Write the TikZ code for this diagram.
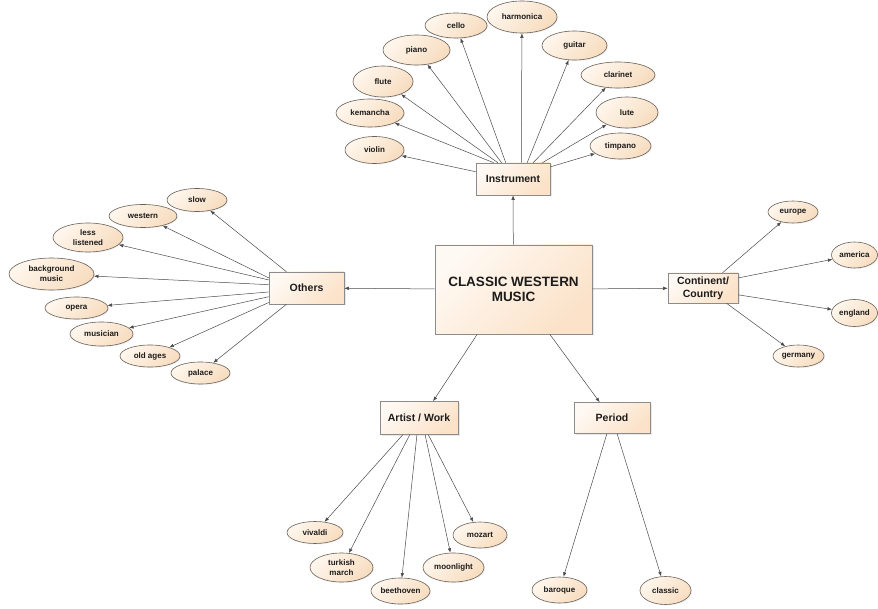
\documentclass[tikz,border=0pt]{standalone}
\usepackage{fontspec}
\setmainfont{Liberation Sans}
\usetikzlibrary{shapes.geometric,arrows.meta,shadows}
\definecolor{boxA}{HTML}{FFF9F3}
\definecolor{boxB}{HTML}{FBE2C8}
\definecolor{elA}{HTML}{FFF6EC}
\definecolor{elB}{HTML}{F7DDC0}
\definecolor{boxline}{HTML}{8C8C8C}
\definecolor{elline}{HTML}{6A625A}
\definecolor{conline}{HTML}{4A4A4A}
\definecolor{txt}{HTML}{1C1C1C}
\begin{document}
\begin{tikzpicture}[x=1pt,y=-1pt,
  bx/.style={rectangle, draw=boxline, line width=0.6pt, top color=boxA, bottom color=boxB, shading angle=45,
    drop shadow={shadow xshift=1.5pt, shadow yshift=-1.5pt, opacity=0.18},
    font=\fontsize{10.5}{13}\selectfont\bfseries, text=txt, inner sep=0pt, align=center},
  el/.style={ellipse, draw=elline, line width=0.6pt, top color=elA, bottom color=elB, shading angle=45,
    drop shadow={shadow xshift=1pt, shadow yshift=-1pt, opacity=0.12},
    font=\fontsize{8}{10}\selectfont\bfseries, text=txt, inner sep=0pt, align=center},
  conn/.style={draw=conline, line width=0.5pt, -{Latex[length=4.5pt,width=3.5pt]}}]
\useasboundingbox[fill=white] (0,0) rectangle (878,609);

% main boxes
\node[bx, minimum width=157pt, minimum height=89pt, font=\fontsize{13.5}{15}\selectfont\bfseries] (cwm) at (513.5,289.5) {CLASSIC WESTERN\\MUSIC};
\node[bx, minimum width=74pt, minimum height=32pt] (inst) at (513,179) {Instrument};
\node[bx, minimum width=75pt, minimum height=32pt] (oth) at (306.5,288) {Others};
\node[bx, minimum width=70pt, minimum height=30pt] (cont) at (703,288) {Continent/\\Country};
\node[bx, minimum width=78pt, minimum height=33pt] (art) at (419,418) {Artist / Work};
\node[bx, minimum width=76pt, minimum height=31pt] (per) at (612,418) {Period};

% instrument leaves
\node[el, minimum width=59pt, minimum height=27pt] (violin) at (374.5,150) {violin};
\node[el, minimum width=68pt, minimum height=28pt] (kemancha) at (370,113) {kemancha};
\node[el, minimum width=60pt, minimum height=31pt] (flute) at (383,81.5) {flute};
\node[el, minimum width=67pt, minimum height=30pt] (piano) at (416.5,50) {piano};
\node[el, minimum width=62pt, minimum height=25pt] (cello) at (456,25.5) {cello};
\node[el, minimum width=70pt, minimum height=32pt] (harmonica) at (522,17) {harmonica};
\node[el, minimum width=65pt, minimum height=29pt] (guitar) at (574.5,45.5) {guitar};
\node[el, minimum width=74pt, minimum height=26pt] (clarinet) at (618,75) {clarinet};
\node[el, minimum width=62pt, minimum height=31pt] (lute) at (627,112.5) {lute};
\node[el, minimum width=61pt, minimum height=26pt] (timpano) at (620.5,146) {timpano};

% others leaves
\node[el, minimum width=60pt, minimum height=23pt] (slow) at (197,200) {slow};
\node[el, minimum width=68pt, minimum height=23pt] (western) at (143,216) {western};
\node[el, minimum width=70pt, minimum height=29pt] (less) at (88,237.5) {less\\listened};
\node[el, minimum width=85pt, minimum height=32pt] (background) at (51.5,274) {background\\music};
\node[el, minimum width=63pt, minimum height=22pt] (opera) at (76.5,308) {opera};
\node[el, minimum width=63pt, minimum height=24pt] (musician) at (101.5,334) {musician};
\node[el, minimum width=60pt, minimum height=22pt] (oldages) at (150,356) {old ages};
\node[el, minimum width=59pt, minimum height=22pt] (palace) at (200.5,373) {palace};

% continent leaves
\node[el, minimum width=50pt, minimum height=22pt] (europe) at (793,212) {europe};
\node[el, minimum width=46pt, minimum height=26pt] (america) at (854.5,255) {america};
\node[el, minimum width=46pt, minimum height=27pt] (england) at (854.5,313) {england};
\node[el, minimum width=51pt, minimum height=22pt] (germany) at (798.5,356) {germany};

% artist leaves
\node[el, minimum width=56pt, minimum height=22pt] (vivaldi) at (315,532.5) {vivaldi};
\node[el, minimum width=63pt, minimum height=29pt] (turkish) at (341.5,567.5) {turkish\\march};
\node[el, minimum width=59pt, minimum height=26pt] (beethoven) at (400.5,591) {beethoven};
\node[el, minimum width=61pt, minimum height=29pt] (moonlight) at (453.5,567.5) {moonlight};
\node[el, minimum width=54pt, minimum height=26pt] (mozart) at (480,535) {mozart};

% period leaves
\node[el, minimum width=55pt, minimum height=26pt] (baroque) at (559.5,590) {baroque};
\node[el, minimum width=51pt, minimum height=28pt] (classic) at (665.5,590.5) {classic};

% central connectors
\draw[conn] (cwm) -- (inst);
\draw[conn] (cwm) -- (oth);
\draw[conn] (cwm) -- (cont);
\draw[conn] (cwm.231) -- (art.50);
\draw[conn] (cwm.309) -- (per.128);

% instrument connectors
\draw[conn] (inst.169) -- (violin);
\draw[conn] (inst.140) -- (kemancha);
\draw[conn] (inst.133) -- (flute);
\draw[conn] (inst.125) -- (piano);
\draw[conn] (inst.114) -- (cello);
\draw[conn] (inst.63) -- (harmonica);
\draw[conn] (inst.49) -- (guitar);
\draw[conn] (inst.39) -- (clarinet);
\draw[conn] (inst.29) -- (lute);
\draw[conn] (inst.18) -- (timpano);

% others connectors
\draw[conn] (oth.141) -- (slow);
\draw[conn] (oth.165) -- (western);
\draw[conn] (oth.168) -- (less);
\draw[conn] (oth.175) -- (background);
\draw[conn] (oth.186) -- (opera);
\draw[conn] (oth.193) -- (musician);
\draw[conn] (oth.201) -- (oldages);
\draw[conn] (oth.219) -- (palace);

% continent connectors
\draw[conn] (cont.38) -- (europe);
\draw[conn] (cont.16) -- (america);
\draw[conn] (cont.349) -- (england);
\draw[conn] (cont.327) -- (germany);

% artist connectors
\draw[conn] (art.226) -- (vivaldi);
\draw[conn] (art.241) -- (turkish);
\draw[conn] (art.263) -- (beethoven);
\draw[conn] (art.290) -- (moonlight);
\draw[conn] (art.299) -- (mozart);

% period connectors
\draw[conn] (per.252) -- (baroque);
\draw[conn] (per.288) -- (classic);
\end{tikzpicture}
\end{document}
